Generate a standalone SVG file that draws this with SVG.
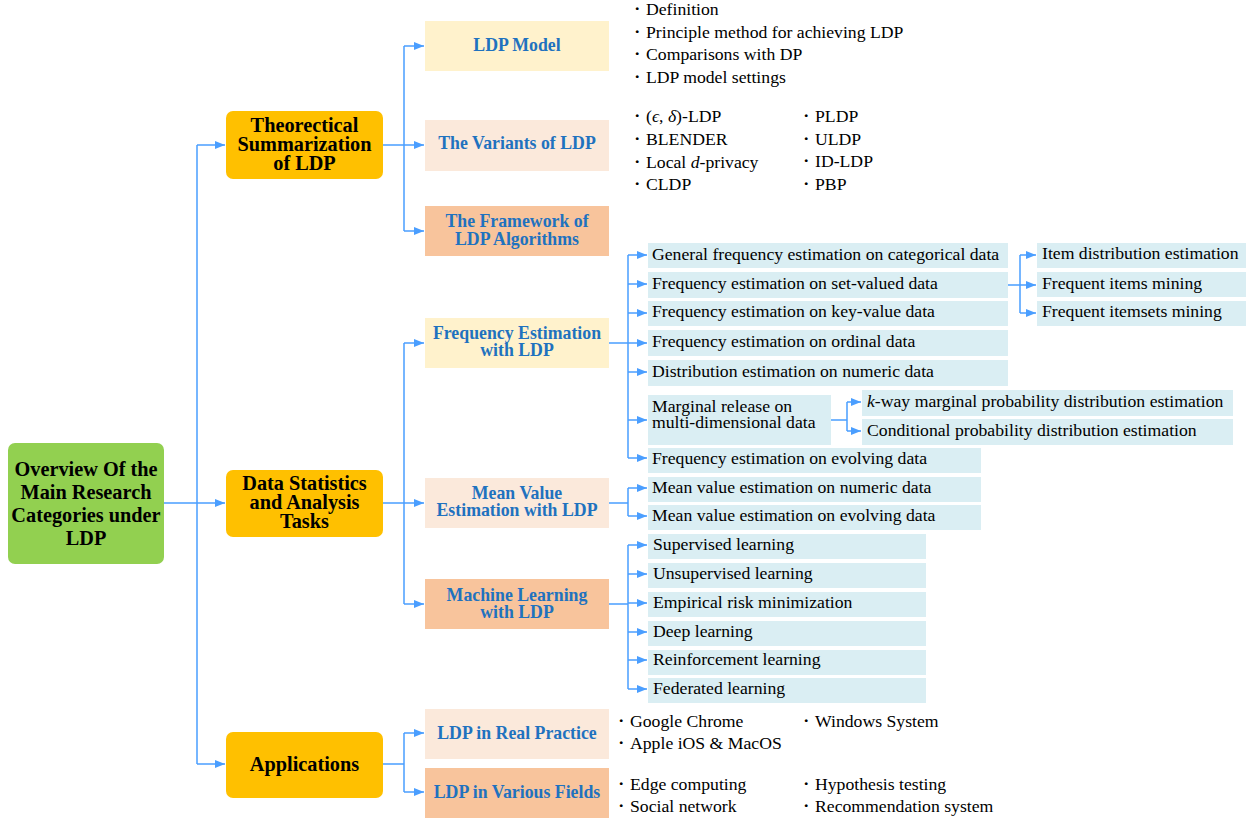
<svg xmlns="http://www.w3.org/2000/svg" width="1256" height="825" viewBox="0 0 1256 825">
<defs>
<marker id="arr" markerUnits="userSpaceOnUse" markerWidth="11" markerHeight="8" refX="10" refY="4" orient="auto"><path d="M0,0 L10,4 L0,8 z" fill="#4A9EFF"/></marker>
<style>
text{font-family:"Liberation Serif","Times New Roman",serif;}
.root{fill:#92D050;}
.l1{fill:#FFC000;}
.t1{font-size:20.3px;font-weight:bold;fill:#000;text-anchor:middle;dominant-baseline:central;}
.t2{font-size:17.8px;font-weight:bold;fill:#1F72BF;text-anchor:middle;dominant-baseline:central;}
.y{fill:#FFF2CC;}
.p{fill:#FBE9DB;}
.o{fill:#F8C49C;}
.leaf{fill:#DAEEF3;}
.lt{font-size:17.7px;fill:#000;dominant-baseline:central;}
.bl{font-size:17.7px;fill:#000;dominant-baseline:central;}
.c{fill:none;stroke:#4A9EFF;stroke-width:1.5;}
.a{fill:none;stroke:#4A9EFF;stroke-width:1.5;marker-end:url(#arr);}
</style>
</defs>
<rect width="1256" height="825" fill="#fff"/>

<g id="connectors">
<path class="c" d="M164,503 H197 M197,145 V764"/>
<path class="a" d="M197,145 H225"/>
<path class="a" d="M197,503 H225"/>
<path class="a" d="M197,764 H225"/>
<path class="c" d="M383,145 H404 M404,46 V231"/>
<path class="a" d="M404,46 H424"/>
<path class="a" d="M404,145 H424"/>
<path class="a" d="M404,231 H424"/>
<path class="c" d="M383,503 H404 M404,343 V604"/>
<path class="a" d="M404,343 H424"/>
<path class="a" d="M404,503 H424"/>
<path class="a" d="M404,604 H424"/>
<path class="c" d="M383,764 H404 M404,733 V792"/>
<path class="a" d="M404,733 H424"/>
<path class="a" d="M404,792 H424"/>
<path class="c" d="M609,343 H628 M628,255 V458"/>
<path class="a" d="M628,255 H647"/>
<path class="a" d="M628,284 H647"/>
<path class="a" d="M628,313 H647"/>
<path class="a" d="M628,343 H647"/>
<path class="a" d="M628,372 H647"/>
<path class="a" d="M628,420 H647"/>
<path class="a" d="M628,458 H647"/>
<path class="c" d="M1008,285 H1020 M1020,255 V313"/>
<path class="a" d="M1020,255 H1036"/>
<path class="a" d="M1020,285 H1036"/>
<path class="a" d="M1020,313 H1036"/>
<path class="c" d="M831,420 H847 M847,402 V431"/>
<path class="a" d="M847,402 H861"/>
<path class="a" d="M847,431 H861"/>
<path class="c" d="M609,503 H628 M628,488 V516"/>
<path class="a" d="M628,488 H647"/>
<path class="a" d="M628,516 H647"/>
<path class="c" d="M609,604 H628 M628,545 V689"/>
<path class="a" d="M628,545 H647"/>
<path class="a" d="M628,574 H647"/>
<path class="a" d="M628,603 H647"/>
<path class="a" d="M628,632 H647"/>
<path class="a" d="M628,660 H647"/>
<path class="a" d="M628,689 H647"/>
</g>

<g id="root"><rect class="root" x="8" y="443" width="156" height="121" rx="7"/>
<text class="t1"><tspan x="86" y="469">Overview Of the</tspan><tspan x="86" y="492">Main Research</tspan><tspan x="86" y="515">Categories under</tspan><tspan x="86" y="538">LDP</tspan></text></g>

<g id="theoretical"><rect class="l1" x="226" y="111" width="157" height="68" rx="7"/>
<text class="t1"><tspan x="304.5" y="125">Theorectical</tspan><tspan x="304.5" y="144">Summarization</tspan><tspan x="304.5" y="163">of LDP</tspan></text></g>

<g id="datastat"><rect class="l1" x="226" y="470" width="157" height="67" rx="7"/>
<text class="t1"><tspan x="304.5" y="483">Data Statistics</tspan><tspan x="304.5" y="502">and Analysis</tspan><tspan x="304.5" y="521">Tasks</tspan></text></g>

<g id="applications"><rect class="l1" x="226" y="732" width="157" height="66" rx="7"/>
<text class="t1" x="304.5" y="764">Applications</text></g>

<g id="ldpmodel"><rect class="y" x="425" y="21" width="184" height="50"/>
<text class="t2" x="517" y="45">LDP Model</text></g>
<g id="ldpmodel-items">
<text class="bl" x="628" y="9">・Definition</text>
<text class="bl" x="628" y="32">・Principle method for achieving LDP</text>
<text class="bl" x="628" y="54">・Comparisons with DP</text>
<text class="bl" x="628" y="77">・LDP model settings</text>
</g>

<g id="variants"><rect class="p" x="425" y="120" width="184" height="51"/>
<text class="t2" x="517" y="143">The Variants of LDP</text></g>
<g id="variants-items">
<text class="bl" x="628" y="116">・(<tspan font-style="italic">ϵ</tspan>, <tspan font-style="italic">δ</tspan>)-LDP</text>
<text class="bl" x="628" y="139">・BLENDER</text>
<text class="bl" x="628" y="162">・Local <tspan font-style="italic">d</tspan>-privacy</text>
<text class="bl" x="628" y="184">・CLDP</text>
<text class="bl" x="797" y="116">・PLDP</text>
<text class="bl" x="797" y="139">・ULDP</text>
<text class="bl" x="797" y="161">・ID-LDP</text>
<text class="bl" x="797" y="184">・PBP</text>
</g>

<g id="framework"><rect class="o" x="425" y="206" width="184" height="50"/>
<text class="t2"><tspan x="517" y="221">The Framework of</tspan><tspan x="517" y="239">LDP Algorithms</tspan></text></g>

<g id="freq"><rect class="y" x="425" y="318" width="184" height="50"/>
<text class="t2"><tspan x="517" y="333">Frequency Estimation</tspan><tspan x="517" y="350">with LDP</tspan></text></g>

<g id="freq-1"><rect class="leaf" x="648" y="243" width="360" height="25"/><text class="lt" x="652" y="254">General frequency estimation on categorical data</text></g>
<g id="freq-2"><rect class="leaf" x="648" y="272" width="360" height="26"/><text class="lt" x="652" y="283">Frequency estimation on set-valued data</text></g>
<g id="freq-3"><rect class="leaf" x="648" y="301" width="360" height="25"/><text class="lt" x="652" y="311">Frequency estimation on key-value data</text></g>
<g id="freq-4"><rect class="leaf" x="648" y="330" width="360" height="26"/><text class="lt" x="652" y="341">Frequency estimation on ordinal data</text></g>
<g id="freq-5"><rect class="leaf" x="648" y="360" width="360" height="26"/><text class="lt" x="652" y="371">Distribution estimation on numeric data</text></g>
<g id="freq-6"><rect class="leaf" x="648" y="395" width="183" height="50"/><text class="lt"><tspan x="652" y="406">Marginal release on</tspan><tspan x="652" y="422">multi-dimensional data</tspan></text></g>
<g id="freq-7"><rect class="leaf" x="648" y="448" width="333" height="25"/><text class="lt" x="652" y="458">Frequency estimation on evolving data</text></g>

<g id="set-1"><rect class="leaf" x="1037" y="243" width="209" height="25"/><text class="lt" x="1042" y="253">Item distribution estimation</text></g>
<g id="set-2"><rect class="leaf" x="1037" y="272" width="209" height="25"/><text class="lt" x="1042" y="283">Frequent items mining</text></g>
<g id="set-3"><rect class="leaf" x="1037" y="301" width="209" height="25"/><text class="lt" x="1042" y="311">Frequent itemsets mining</text></g>

<g id="marg-1"><rect class="leaf" x="862" y="390" width="371" height="26"/><text class="lt" x="867" y="401"><tspan font-style="italic">k</tspan>-way marginal probability distribution estimation</text></g>
<g id="marg-2"><rect class="leaf" x="862" y="419" width="371" height="26"/><text class="lt" x="867" y="430">Conditional probability distribution estimation</text></g>

<g id="mean"><rect class="p" x="425" y="478" width="184" height="50"/>
<text class="t2"><tspan x="517" y="493">Mean Value</tspan><tspan x="517" y="510">Estimation with LDP</tspan></text></g>
<g id="mean-1"><rect class="leaf" x="648" y="477" width="333" height="25"/><text class="lt" x="652" y="487">Mean value estimation on numeric data</text></g>
<g id="mean-2"><rect class="leaf" x="648" y="505" width="333" height="25"/><text class="lt" x="652" y="515">Mean value estimation on evolving data</text></g>

<g id="ml"><rect class="o" x="425" y="579" width="184" height="50"/>
<text class="t2"><tspan x="517" y="595">Machine Learning</tspan><tspan x="517" y="612">with LDP</tspan></text></g>
<g id="ml-1"><rect class="leaf" x="648" y="534" width="278" height="25"/><text class="lt" x="653" y="544">Supervised learning</text></g>
<g id="ml-2"><rect class="leaf" x="648" y="563" width="278" height="25"/><text class="lt" x="653" y="573">Unsupervised learning</text></g>
<g id="ml-3"><rect class="leaf" x="648" y="592" width="278" height="25"/><text class="lt" x="653" y="602">Empirical risk minimization</text></g>
<g id="ml-4"><rect class="leaf" x="648" y="621" width="278" height="25"/><text class="lt" x="653" y="631">Deep learning</text></g>
<g id="ml-5"><rect class="leaf" x="648" y="650" width="278" height="25"/><text class="lt" x="653" y="659">Reinforcement learning</text></g>
<g id="ml-6"><rect class="leaf" x="648" y="678" width="278" height="25"/><text class="lt" x="653" y="688">Federated learning</text></g>

<g id="practice"><rect class="p" x="425" y="709" width="184" height="50"/>
<text class="t2" x="517" y="733">LDP in Real Practice</text></g>
<g id="practice-items">
<text class="bl" x="612" y="721">・Google Chrome</text>
<text class="bl" x="612" y="743">・Apple iOS &amp; MacOS</text>
<text class="bl" x="797" y="721">・Windows System</text>
</g>

<g id="fields"><rect class="o" x="425" y="768" width="184" height="50"/>
<text class="t2" x="517" y="792">LDP in Various Fields</text></g>
<g id="fields-items">
<text class="bl" x="612" y="784">・Edge computing</text>
<text class="bl" x="612" y="806">・Social network</text>
<text class="bl" x="797" y="784">・Hypothesis testing</text>
<text class="bl" x="797" y="806">・Recommendation system</text>
</g>
</svg>
